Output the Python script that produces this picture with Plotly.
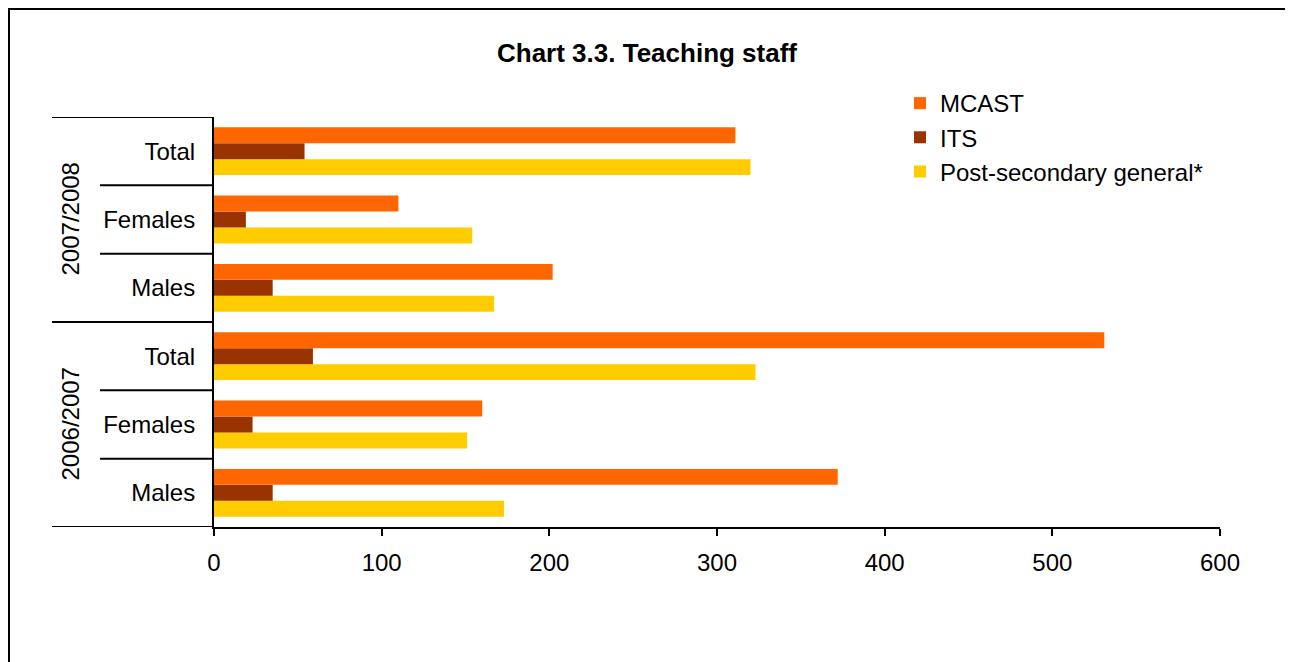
import plotly.graph_objects as go

years = ["2006/2007", "2007/2008"]
groups = ["Males", "Females", "Total"]
# bottom to top: 2006/2007 Males, Females, Total, 2007/2008 Males, Females, Total
mcast = [372, 160, 531, 202, 110, 311]
its = [35, 23, 59, 35, 19, 54]
psg = [173, 151, 323, 167, 154, 320]
x_ticks = [0, 100, 200, 300, 400, 500, 600]

cat_labels = [g for y in years for g in groups]
pos = list(range(len(cat_labels)))

FONT = "Arial, Liberation Sans, sans-serif"

fig = go.Figure()
fig.add_trace(go.Bar(y=pos, x=psg, orientation="h", name="Post-secondary general*",
                     marker=dict(color="#FFCC00", line=dict(width=0))))
fig.add_trace(go.Bar(y=pos, x=its, orientation="h", name="ITS",
                     marker=dict(color="#993300", line=dict(width=0))))
fig.add_trace(go.Bar(y=pos, x=mcast, orientation="h", name="MCAST",
                     marker=dict(color="#FF6600", line=dict(width=0))))

# page offset (body margin) is 8px
OFF = 8
W_FIG, H_FIG = 1293 - OFF, 662 - OFF
PL, PR, PT, PB = 214, 1220, 117, 527   # plot area in page pixels
W_PLOT = PR - PL
H_PLOT = PB - PT

def px_x(px):
    return (px - PL) / W_PLOT

def px_y(py):
    return (PB - py) / H_PLOT

shapes = []
for b in [-0.5, 2.5, 5.5]:
    shapes.append(dict(type="line", xref="paper", yref="y", x0=px_x(52), x1=0, y0=b, y1=b,
                       line=dict(color="black", width=2)))
for b in [0.5, 1.5, 3.5, 4.5]:
    shapes.append(dict(type="line", xref="paper", yref="y", x0=px_x(100), x1=0, y0=b, y1=b,
                       line=dict(color="black", width=2)))
# outer border
shapes.append(dict(type="rect", xref="paper", yref="paper", x0=px_x(9), x1=px_x(1288),
                   y0=px_y(700), y1=px_y(9), line=dict(color="black", width=2)))

annotations = []
for i, yr in enumerate(years):
    annotations.append(dict(text=yr, xref="paper", yref="y", x=px_x(70), y=3 * i + 1,
                            textangle=-90, showarrow=False, xanchor="center", yanchor="middle",
                            font=dict(family=FONT, size=24, color="black")))

fig.update_layout(
    width=W_FIG, height=H_FIG,
    margin=dict(l=PL - OFF, r=W_FIG - (PR - OFF), t=PT - OFF, b=H_FIG - (PB - OFF),
                autoexpand=False),
    paper_bgcolor="white", plot_bgcolor="white",
    barmode="group", bargap=0.3, bargroupgap=0,
    title=dict(text="<b>Chart 3.3. Teaching staff</b>", xref="container",
               x=(647 - OFF) / W_FIG, xanchor="center",
               yref="container", y=1 - (53 - OFF) / H_FIG, yanchor="middle",
               font=dict(family=FONT, size=26, color="black")),
    font=dict(family=FONT, color="black"),
    legend=dict(x=px_x(900), y=px_y(81), xanchor="left", yanchor="top", traceorder="reversed",
                font=dict(family=FONT, size=24, color="black"), bgcolor="rgba(0,0,0,0)",
                itemwidth=30),
    xaxis=dict(range=[0, 600], tickvals=x_ticks, ticktext=[str(v) for v in x_ticks],
               showgrid=False, zeroline=False, showline=True, linecolor="black", linewidth=2,
               ticks="outside", ticklen=7, tickwidth=2, tickcolor="black",
               ticklabelstandoff=6,
               tickfont=dict(family=FONT, size=24, color="black")),
    yaxis=dict(range=[-0.5, 5.5], tickvals=pos, ticktext=cat_labels, showgrid=False,
               zeroline=False, showline=True, linecolor="black", linewidth=2, ticks="",
               ticklabelstandoff=12, tickfont=dict(family=FONT, size=24, color="black")),
    shapes=shapes, annotations=annotations,
)

fig.write_html("out.html")
